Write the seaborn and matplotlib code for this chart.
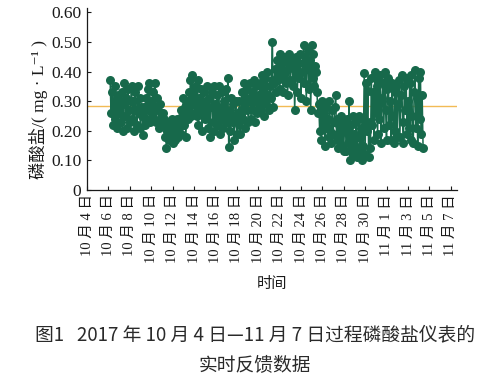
import pandas as pd
import seaborn as sns
import matplotlib.pyplot as plt

# phosphate readings every 2 h, starting 10/6 04:00 (mg/L), one row per day
phosphate = [
    0.37, 0.26, 0.33, 0.22, 0.30, 0.35, 0.24, 0.28, 0.21, 0.32, 0.26, 0.30,
    0.23, 0.33, 0.20, 0.29, 0.36, 0.25, 0.31, 0.21, 0.34, 0.27, 0.23, 0.30,
    0.35, 0.24, 0.30, 0.20, 0.33, 0.27, 0.22, 0.35, 0.26, 0.31, 0.21, 0.28,
    0.25, 0.186, 0.28, 0.22, 0.31, 0.24, 0.34, 0.27, 0.36, 0.23, 0.30, 0.26,
    0.33, 0.24, 0.36, 0.28, 0.23, 0.31, 0.27, 0.21, 0.29, 0.24, 0.22, 0.26,
    0.24, 0.18, 0.22, 0.14, 0.20, 0.23, 0.17, 0.21, 0.19, 0.24, 0.16, 0.20,
    0.22, 0.17, 0.20, 0.24, 0.18, 0.21, 0.23, 0.27, 0.19, 0.25, 0.31, 0.22,
    0.28, 0.18, 0.30, 0.24, 0.33, 0.27, 0.37, 0.25, 0.39, 0.29, 0.34, 0.26,
    0.35, 0.25, 0.37, 0.22, 0.31, 0.27, 0.34, 0.20, 0.29, 0.33, 0.24, 0.30,
    0.26, 0.35, 0.21, 0.31, 0.18, 0.28, 0.33, 0.23, 0.35, 0.20, 0.29, 0.25,
    0.32, 0.22, 0.35, 0.19, 0.28, 0.24, 0.33, 0.21, 0.30, 0.26, 0.34, 0.23,
    0.38, 0.145, 0.27, 0.20, 0.31, 0.23, 0.29, 0.17, 0.25, 0.30, 0.19, 0.26,
    0.22, 0.30, 0.19, 0.27, 0.33, 0.24, 0.36, 0.21, 0.31, 0.27, 0.34, 0.23,
    0.30, 0.36, 0.24, 0.33, 0.27, 0.37, 0.23, 0.31, 0.35, 0.26, 0.32, 0.29,
    0.36, 0.27, 0.39, 0.30, 0.34, 0.25, 0.38, 0.29, 0.40, 0.32, 0.27, 0.35,
    0.31, 0.37, 0.50, 0.28, 0.36, 0.41, 0.33, 0.44, 0.37, 0.42, 0.34, 0.46,
    0.38, 0.43, 0.33, 0.45, 0.40, 0.36, 0.44, 0.32, 0.41, 0.46, 0.37, 0.42,
    0.44, 0.35, 0.42, 0.27, 0.39, 0.45, 0.33, 0.43, 0.38, 0.46, 0.31, 0.40,
    0.43, 0.49, 0.36, 0.45, 0.30, 0.41, 0.47, 0.34, 0.44, 0.27, 0.49, 0.38,
    0.46, 0.35, 0.42, 0.40, 0.33, 0.26, 0.29, 0.20, 0.27, 0.17, 0.30, 0.22,
    0.26, 0.15, 0.28, 0.21, 0.24, 0.18, 0.30, 0.20, 0.16, 0.27, 0.19, 0.23,
    0.28, 0.32, 0.17, 0.24, 0.14, 0.22, 0.19, 0.25, 0.15, 0.21, 0.13, 0.23,
    0.20, 0.13, 0.24, 0.16, 0.30, 0.10, 0.22, 0.14, 0.25, 0.12, 0.19, 0.15,
    0.23, 0.11, 0.18, 0.25, 0.13, 0.21, 0.10, 0.24, 0.15, 0.395, 0.12, 0.36,
    0.20, 0.335, 0.11, 0.23, 0.14, 0.38, 0.22, 0.33, 0.17, 0.40, 0.26, 0.35,
    0.19, 0.37, 0.24, 0.39, 0.16, 0.31, 0.36, 0.21, 0.40, 0.27, 0.17, 0.34,
    0.38, 0.22, 0.30, 0.17, 0.36, 0.25, 0.16, 0.33, 0.20, 0.35, 0.18, 0.29,
    0.37, 0.18, 0.32, 0.39, 0.23, 0.16, 0.35, 0.27, 0.38, 0.19, 0.30, 0.21,
    0.36, 0.17, 0.39, 0.25, 0.16, 0.33, 0.405, 0.21, 0.31, 0.15, 0.38, 0.24,
    0.40, 0.19, 0.32, 0.14,
]
target = 0.285

tick_dates = pd.date_range('2017-10-04', '2017-11-07', freq='2D')
tick_labels = [f"{d.month} 月 {d.day} 日" for d in tick_dates]
y_ticks = [0, 0.10, 0.20, 0.30, 0.40, 0.50, 0.60]
y_labels = ['0', '0.10', '0.20', '0.30', '0.40', '0.50', '0.60']

df = pd.DataFrame({
    'time': pd.date_range('2017-10-06 04:00', periods=len(phosphate), freq='2h'),
    'value': phosphate,
})

sns.set_theme(style='ticks')
serif = ['Liberation Serif', 'Noto Sans CJK SC', 'DejaVu Sans']
plt.rcParams['font.family'] = serif

fig = plt.figure(figsize=(4.94, 3.82), dpi=100)
ax = fig.add_axes([0.176, 0.503, 0.749, 0.476])

ax.axhline(target, color='#f2bb55', linewidth=1.0, zorder=1)
sns.lineplot(data=df, x='time', y='value', ax=ax, color='#17694b',
             linewidth=1.1, marker='o', markersize=6.5, markeredgewidth=0,
             zorder=3)

ax.set_xlim(pd.Timestamp('2017-10-04'), pd.Timestamp('2017-11-07 14:00'))
ax.set_ylim(0, 0.615)
ax.set_xticks(tick_dates)
ax.set_xticklabels(tick_labels, rotation=90, fontsize=10.5, color='#1a1a1a')
ax.set_yticks(y_ticks)
ax.set_yticklabels(y_labels, fontsize=12.5, color='#1a1a1a')
ax.tick_params(direction='in', length=3, width=0.8, colors='#1a1a1a')
ax.tick_params(axis='y', pad=4)
ax.tick_params(axis='x', pad=3)
for s in ['top', 'right']:
    ax.spines[s].set_visible(False)
for s in ['left', 'bottom']:
    ax.spines[s].set_linewidth(0.9)
    ax.spines[s].set_color('#1a1a1a')

ax.set_xlabel('时间', fontsize=11, color='#1a1a1a')
ax.xaxis.set_label_coords(0.5, -0.48)
ax.set_ylabel('磷酸盐/( mg · L⁻¹ )', fontsize=12.5, color='#1a1a1a', va='center')
ax.yaxis.set_label_coords(-0.13, 0.44)

cap_font = ['Noto Sans CJK SC', 'DejaVu Sans']
fig.text(0.517, 0.123, '图1   2017 年 10 月 4 日—11 月 7 日过程磷酸盐仪表的',
         ha='center', va='center', fontsize=13.5, color='#2a2a2a', family=cap_font)
fig.text(0.517, 0.042, '实时反馈数据', ha='center', va='center',
         fontsize=13.5, color='#2a2a2a', family=cap_font)

fig.savefig('out.png', dpi=100)
